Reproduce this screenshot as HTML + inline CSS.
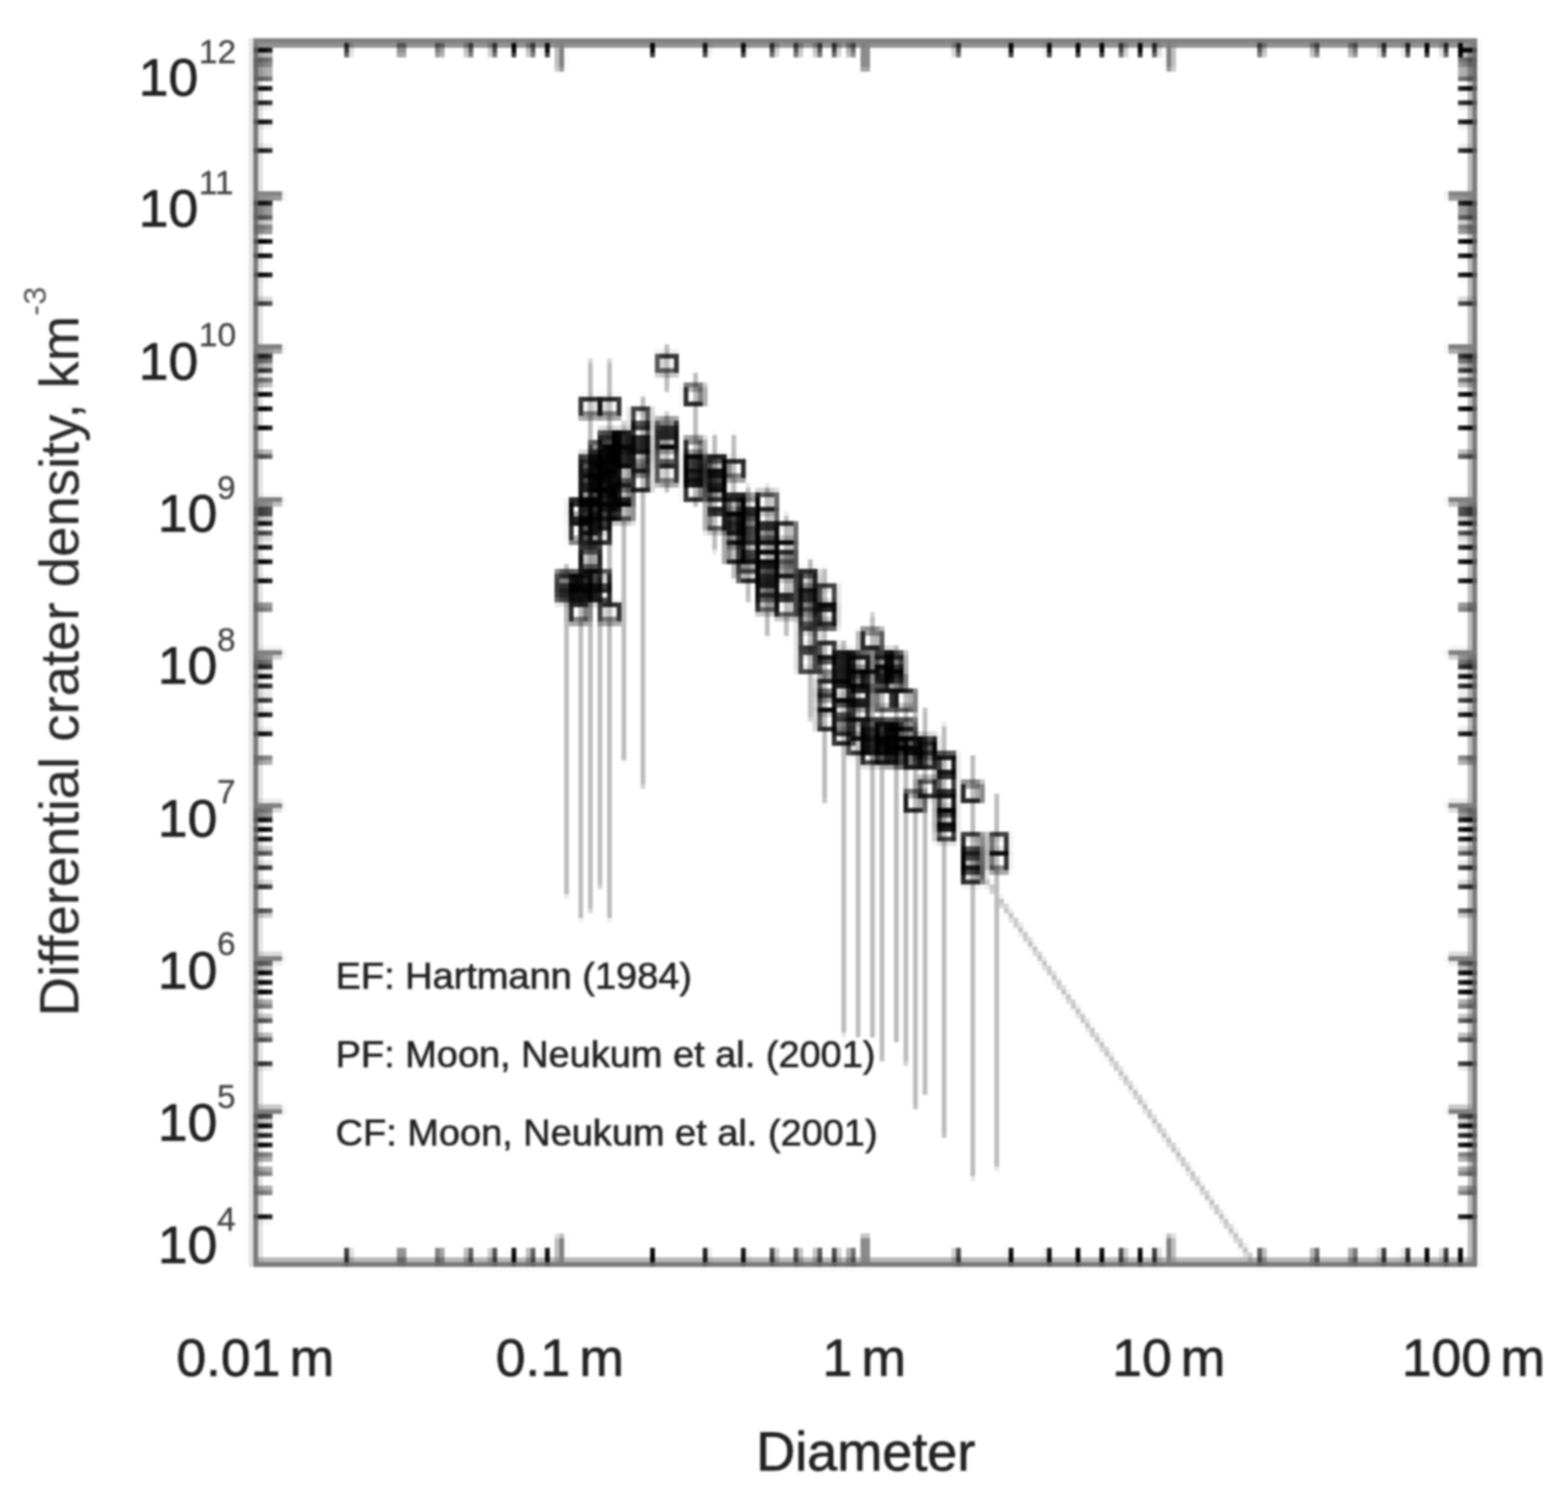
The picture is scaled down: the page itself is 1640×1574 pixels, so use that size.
<!DOCTYPE html>
<html lang="en"><head><meta charset="utf-8"><title>Differential crater density</title>
<style>html,body{margin:0;padding:0;background:#fff}svg{display:block}text{font-family:"Liberation Sans",Arial,sans-serif;fill:#222;stroke:#222;stroke-width:.7px;stroke-linejoin:round}.lg text{stroke-width:.6px}.sup{fill:#444;stroke:#444;stroke-width:.3px}</style></head><body>
<svg width="1640" height="1574" viewBox="0 0 1640 1574">
<defs><filter id="b" x="0" y="0" width="1640" height="1574" filterUnits="userSpaceOnUse" color-interpolation-filters="sRGB"><feGaussianBlur in="SourceGraphic" stdDeviation="1.1" result="pre"/><feFlood x="2" y="2" width="1" height="1" flood-color="#000" result="dot"/><feComposite in="dot" in2="dot" operator="over" x="0" y="0" width="5" height="5" result="cell"/><feTile in="cell" x="0" y="0" width="1640" height="1574" result="grid"/><feComposite in="pre" in2="grid" operator="in" result="samp"/><feMorphology in="samp" operator="dilate" radius="2" result="pix"/><feGaussianBlur in="pix" stdDeviation="1.15"/></filter><filter id="bt" x="0" y="0" width="1640" height="1574" filterUnits="userSpaceOnUse"><feGaussianBlur stdDeviation="1.2"/></filter></defs>
<g filter="url(#b)">
<rect width="1640" height="1574" fill="#fff"/>
<g stroke="#bdbdbd" stroke-width="5" fill="none">
<line x1="592.5" y1="590" x2="592.5" y2="937"/>
<line x1="607.5" y1="512" x2="607.5" y2="961.5"/>
<line x1="617.5" y1="377" x2="617.5" y2="953"/>
<line x1="627.5" y1="455" x2="627.5" y2="928"/>
<line x1="637.5" y1="377" x2="637.5" y2="961.5"/>
<line x1="652.5" y1="442" x2="652.5" y2="796"/>
<line x1="672.5" y1="414" x2="672.5" y2="823"/>
<line x1="697.5" y1="361" x2="697.5" y2="409"/>
<line x1="727.5" y1="389" x2="727.5" y2="530"/>
<line x1="747.5" y1="454" x2="747.5" y2="577"/>
<line x1="767.5" y1="454" x2="767.5" y2="606"/>
<line x1="782.5" y1="508" x2="782.5" y2="629"/>
<line x1="802.5" y1="508" x2="802.5" y2="666"/>
<line x1="822.5" y1="538" x2="822.5" y2="666"/>
<line x1="847.5" y1="585" x2="847.5" y2="753"/>
<line x1="862.5" y1="594" x2="862.5" y2="839"/>
<line x1="882.5" y1="670" x2="882.5" y2="1082"/>
<line x1="897.5" y1="659" x2="897.5" y2="1084"/>
<line x1="912.5" y1="642" x2="912.5" y2="1085"/>
<line x1="922.5" y1="659" x2="922.5" y2="1109"/>
<line x1="937.5" y1="675" x2="937.5" y2="1090"/>
<line x1="947.5" y1="705" x2="947.5" y2="1113"/>
<line x1="957.5" y1="741" x2="957.5" y2="1159"/>
<line x1="967.5" y1="741" x2="967.5" y2="1145"/>
<line x1="987.5" y1="758" x2="987.5" y2="1189"/>
<line x1="1017.5" y1="790" x2="1017.5" y2="1232"/>
<line x1="1042.5" y1="831" x2="1042.5" y2="1222"/>
<line x1="697.5" y1="432" x2="697.5" y2="514"/>
</g>
<line x1="1012" y1="893" x2="1311" y2="1320" stroke="#c0c0c0" stroke-width="5"/>
<g stroke="#000" stroke-opacity="0.85" stroke-width="4.8" fill="none">
<rect x="584.2" y="599.1" width="17.7" height="17.7"/>
<rect x="584.2" y="604.1" width="17.7" height="17.7"/>
<rect x="584.2" y="611.1" width="17.7" height="17.7"/>
<rect x="596.9" y="522.6" width="17.7" height="17.7"/>
<rect x="596.9" y="527.1" width="17.7" height="17.7"/>
<rect x="596.9" y="547.6" width="17.7" height="17.7"/>
<rect x="596.9" y="601.1" width="17.7" height="17.7"/>
<rect x="596.9" y="611.1" width="17.7" height="17.7"/>
<rect x="596.9" y="632.1" width="17.7" height="17.7"/>
<rect x="608.4" y="417.1" width="17.7" height="17.7"/>
<rect x="608.4" y="476.1" width="17.7" height="17.7"/>
<rect x="608.4" y="482.1" width="17.7" height="17.7"/>
<rect x="608.4" y="489.1" width="17.7" height="17.7"/>
<rect x="608.4" y="497.1" width="17.7" height="17.7"/>
<rect x="608.4" y="505.1" width="17.7" height="17.7"/>
<rect x="608.4" y="513.1" width="17.7" height="17.7"/>
<rect x="608.4" y="526.1" width="17.7" height="17.7"/>
<rect x="608.4" y="540.1" width="17.7" height="17.7"/>
<rect x="608.4" y="549.1" width="17.7" height="17.7"/>
<rect x="608.4" y="573.1" width="17.7" height="17.7"/>
<rect x="608.4" y="579.1" width="17.7" height="17.7"/>
<rect x="608.4" y="599.1" width="17.7" height="17.7"/>
<rect x="608.4" y="605.1" width="17.7" height="17.7"/>
<rect x="608.4" y="611.1" width="17.7" height="17.7"/>
<rect x="619.1" y="464.1" width="17.7" height="17.7"/>
<rect x="619.1" y="471.1" width="17.7" height="17.7"/>
<rect x="619.1" y="479.1" width="17.7" height="17.7"/>
<rect x="619.1" y="487.1" width="17.7" height="17.7"/>
<rect x="619.1" y="495.1" width="17.7" height="17.7"/>
<rect x="619.1" y="503.1" width="17.7" height="17.7"/>
<rect x="619.1" y="511.1" width="17.7" height="17.7"/>
<rect x="619.1" y="526.1" width="17.7" height="17.7"/>
<rect x="619.1" y="536.1" width="17.7" height="17.7"/>
<rect x="619.1" y="549.1" width="17.7" height="17.7"/>
<rect x="619.1" y="599.1" width="17.7" height="17.7"/>
<rect x="619.1" y="611.1" width="17.7" height="17.7"/>
<rect x="629.0" y="417.1" width="17.7" height="17.7"/>
<rect x="629.0" y="451.1" width="17.7" height="17.7"/>
<rect x="629.0" y="458.1" width="17.7" height="17.7"/>
<rect x="629.0" y="466.1" width="17.7" height="17.7"/>
<rect x="629.0" y="474.1" width="17.7" height="17.7"/>
<rect x="629.0" y="481.1" width="17.7" height="17.7"/>
<rect x="629.0" y="491.1" width="17.7" height="17.7"/>
<rect x="629.0" y="499.1" width="17.7" height="17.7"/>
<rect x="629.0" y="514.1" width="17.7" height="17.7"/>
<rect x="629.0" y="525.6" width="17.7" height="17.7"/>
<rect x="629.0" y="632.1" width="17.7" height="17.7"/>
<rect x="642.4" y="451.6" width="17.7" height="17.7"/>
<rect x="642.4" y="456.1" width="17.7" height="17.7"/>
<rect x="642.4" y="461.1" width="17.7" height="17.7"/>
<rect x="642.4" y="466.1" width="17.7" height="17.7"/>
<rect x="642.4" y="469.1" width="17.7" height="17.7"/>
<rect x="642.4" y="487.1" width="17.7" height="17.7"/>
<rect x="642.4" y="505.1" width="17.7" height="17.7"/>
<rect x="642.4" y="510.1" width="17.7" height="17.7"/>
<rect x="642.4" y="526.6" width="17.7" height="17.7"/>
<rect x="661.3" y="428.6" width="17.7" height="17.7"/>
<rect x="661.3" y="444.1" width="17.7" height="17.7"/>
<rect x="661.3" y="456.6" width="17.7" height="17.7"/>
<rect x="661.3" y="467.1" width="17.7" height="17.7"/>
<rect x="661.3" y="473.1" width="17.7" height="17.7"/>
<rect x="661.3" y="495.1" width="17.7" height="17.7"/>
<rect x="689.0" y="371.6" width="17.7" height="17.7"/>
<rect x="689.0" y="440.1" width="17.7" height="17.7"/>
<rect x="689.0" y="448.1" width="17.7" height="17.7"/>
<rect x="689.0" y="452.1" width="17.7" height="17.7"/>
<rect x="689.0" y="466.6" width="17.7" height="17.7"/>
<rect x="689.0" y="487.1" width="17.7" height="17.7"/>
<rect x="717.0" y="404.6" width="17.7" height="17.7"/>
<rect x="717.0" y="460.1" width="17.7" height="17.7"/>
<rect x="717.0" y="475.1" width="17.7" height="17.7"/>
<rect x="717.0" y="480.1" width="17.7" height="17.7"/>
<rect x="717.0" y="485.1" width="17.7" height="17.7"/>
<rect x="717.0" y="490.1" width="17.7" height="17.7"/>
<rect x="717.0" y="504.1" width="17.7" height="17.7"/>
<rect x="740.3" y="477.1" width="17.7" height="17.7"/>
<rect x="740.3" y="481.1" width="17.7" height="17.7"/>
<rect x="740.3" y="490.6" width="17.7" height="17.7"/>
<rect x="740.3" y="495.1" width="17.7" height="17.7"/>
<rect x="740.3" y="504.1" width="17.7" height="17.7"/>
<rect x="740.3" y="514.6" width="17.7" height="17.7"/>
<rect x="740.3" y="536.6" width="17.7" height="17.7"/>
<rect x="760.2" y="482.1" width="17.7" height="17.7"/>
<rect x="760.2" y="518.1" width="17.7" height="17.7"/>
<rect x="760.2" y="523.1" width="17.7" height="17.7"/>
<rect x="760.2" y="536.1" width="17.7" height="17.7"/>
<rect x="760.2" y="540.1" width="17.7" height="17.7"/>
<rect x="760.2" y="548.1" width="17.7" height="17.7"/>
<rect x="760.2" y="569.6" width="17.7" height="17.7"/>
<rect x="774.1" y="520.1" width="17.7" height="17.7"/>
<rect x="774.1" y="532.1" width="17.7" height="17.7"/>
<rect x="774.1" y="541.1" width="17.7" height="17.7"/>
<rect x="774.1" y="551.1" width="17.7" height="17.7"/>
<rect x="774.1" y="561.1" width="17.7" height="17.7"/>
<rect x="774.1" y="569.1" width="17.7" height="17.7"/>
<rect x="774.1" y="581.1" width="17.7" height="17.7"/>
<rect x="774.1" y="589.6" width="17.7" height="17.7"/>
<rect x="793.0" y="515.9" width="17.7" height="17.7"/>
<rect x="793.0" y="534.1" width="17.7" height="17.7"/>
<rect x="793.0" y="548.1" width="17.7" height="17.7"/>
<rect x="793.0" y="560.1" width="17.7" height="17.7"/>
<rect x="793.0" y="569.1" width="17.7" height="17.7"/>
<rect x="793.0" y="578.1" width="17.7" height="17.7"/>
<rect x="793.0" y="589.1" width="17.7" height="17.7"/>
<rect x="793.0" y="593.6" width="17.7" height="17.7"/>
<rect x="793.0" y="602.1" width="17.7" height="17.7"/>
<rect x="793.0" y="611.6" width="17.7" height="17.7"/>
<rect x="793.0" y="621.6" width="17.7" height="17.7"/>
<rect x="812.9" y="548.1" width="17.7" height="17.7"/>
<rect x="812.9" y="567.6" width="17.7" height="17.7"/>
<rect x="812.9" y="577.1" width="17.7" height="17.7"/>
<rect x="812.9" y="585.6" width="17.7" height="17.7"/>
<rect x="812.9" y="604.1" width="17.7" height="17.7"/>
<rect x="812.9" y="626.6" width="17.7" height="17.7"/>
<rect x="836.2" y="597.1" width="17.7" height="17.7"/>
<rect x="836.2" y="604.1" width="17.7" height="17.7"/>
<rect x="836.2" y="617.1" width="17.7" height="17.7"/>
<rect x="836.2" y="627.1" width="17.7" height="17.7"/>
<rect x="836.2" y="636.1" width="17.7" height="17.7"/>
<rect x="836.2" y="658.9" width="17.7" height="17.7"/>
<rect x="836.2" y="683.6" width="17.7" height="17.7"/>
<rect x="856.0" y="613.6" width="17.7" height="17.7"/>
<rect x="856.0" y="633.1" width="17.7" height="17.7"/>
<rect x="856.0" y="638.1" width="17.7" height="17.7"/>
<rect x="856.0" y="673.1" width="17.7" height="17.7"/>
<rect x="856.0" y="687.1" width="17.7" height="17.7"/>
<rect x="856.0" y="712.1" width="17.7" height="17.7"/>
<rect x="856.0" y="724.6" width="17.7" height="17.7"/>
<rect x="856.0" y="744.1" width="17.7" height="17.7"/>
<rect x="873.4" y="681.6" width="17.7" height="17.7"/>
<rect x="873.4" y="685.6" width="17.7" height="17.7"/>
<rect x="873.4" y="690.1" width="17.7" height="17.7"/>
<rect x="873.4" y="694.6" width="17.7" height="17.7"/>
<rect x="873.4" y="713.6" width="17.7" height="17.7"/>
<rect x="873.4" y="718.1" width="17.7" height="17.7"/>
<rect x="873.4" y="733.6" width="17.7" height="17.7"/>
<rect x="873.4" y="749.1" width="17.7" height="17.7"/>
<rect x="873.4" y="760.1" width="17.7" height="17.7"/>
<rect x="888.9" y="684.1" width="17.7" height="17.7"/>
<rect x="888.9" y="688.1" width="17.7" height="17.7"/>
<rect x="888.9" y="700.1" width="17.7" height="17.7"/>
<rect x="888.9" y="715.1" width="17.7" height="17.7"/>
<rect x="888.9" y="722.1" width="17.7" height="17.7"/>
<rect x="888.9" y="735.6" width="17.7" height="17.7"/>
<rect x="888.9" y="754.1" width="17.7" height="17.7"/>
<rect x="888.9" y="770.6" width="17.7" height="17.7"/>
<rect x="902.7" y="659.9" width="17.7" height="17.7"/>
<rect x="902.7" y="702.1" width="17.7" height="17.7"/>
<rect x="902.7" y="754.1" width="17.7" height="17.7"/>
<rect x="902.7" y="761.1" width="17.7" height="17.7"/>
<rect x="902.7" y="769.1" width="17.7" height="17.7"/>
<rect x="902.7" y="781.1" width="17.7" height="17.7"/>
<rect x="915.4" y="681.1" width="17.7" height="17.7"/>
<rect x="915.4" y="688.1" width="17.7" height="17.7"/>
<rect x="915.4" y="696.1" width="17.7" height="17.7"/>
<rect x="915.4" y="723.1" width="17.7" height="17.7"/>
<rect x="915.4" y="754.1" width="17.7" height="17.7"/>
<rect x="915.4" y="759.1" width="17.7" height="17.7"/>
<rect x="915.4" y="770.1" width="17.7" height="17.7"/>
<rect x="915.4" y="781.1" width="17.7" height="17.7"/>
<rect x="926.9" y="684.1" width="17.7" height="17.7"/>
<rect x="926.9" y="689.1" width="17.7" height="17.7"/>
<rect x="926.9" y="696.1" width="17.7" height="17.7"/>
<rect x="926.9" y="703.1" width="17.7" height="17.7"/>
<rect x="926.9" y="756.1" width="17.7" height="17.7"/>
<rect x="926.9" y="763.1" width="17.7" height="17.7"/>
<rect x="926.9" y="772.1" width="17.7" height="17.7"/>
<rect x="926.9" y="782.1" width="17.7" height="17.7"/>
<rect x="937.6" y="723.1" width="17.7" height="17.7"/>
<rect x="937.6" y="754.1" width="17.7" height="17.7"/>
<rect x="937.6" y="762.1" width="17.7" height="17.7"/>
<rect x="937.6" y="772.1" width="17.7" height="17.7"/>
<rect x="937.6" y="782.6" width="17.7" height="17.7"/>
<rect x="947.5" y="771.1" width="17.7" height="17.7"/>
<rect x="947.5" y="784.1" width="17.7" height="17.7"/>
<rect x="947.5" y="829.6" width="17.7" height="17.7"/>
<rect x="960.9" y="771.1" width="17.7" height="17.7"/>
<rect x="960.9" y="777.1" width="17.7" height="17.7"/>
<rect x="960.9" y="784.1" width="17.7" height="17.7"/>
<rect x="960.9" y="815.6" width="17.7" height="17.7"/>
<rect x="980.8" y="789.1" width="17.7" height="17.7"/>
<rect x="980.8" y="793.1" width="17.7" height="17.7"/>
<rect x="980.8" y="811.1" width="17.7" height="17.7"/>
<rect x="980.8" y="829.6" width="17.7" height="17.7"/>
<rect x="980.8" y="833.1" width="17.7" height="17.7"/>
<rect x="980.8" y="846.1" width="17.7" height="17.7"/>
<rect x="980.8" y="850.1" width="17.7" height="17.7"/>
<rect x="980.8" y="861.1" width="17.7" height="17.7"/>
<rect x="1007.5" y="819.9" width="17.7" height="17.7"/>
<rect x="1007.5" y="873.6" width="17.7" height="17.7"/>
<rect x="1007.5" y="889.1" width="17.7" height="17.7"/>
<rect x="1007.5" y="896.1" width="17.7" height="17.7"/>
<rect x="1007.5" y="905.6" width="17.7" height="17.7"/>
<rect x="1035.5" y="873.6" width="17.7" height="17.7"/>
<rect x="1035.5" y="892.1" width="17.7" height="17.7"/>
</g>
<rect x="267.5" y="44.6" width="1274.0" height="1276.8000000000002" fill="none" stroke="#7a7a7a" stroke-width="8"/>
<path d="M586.5 1321.4 v-29 M586.5 44.6 v29 M905.0 1321.4 v-29 M905.0 44.6 v29 M1223.5 1321.4 v-29 M1223.5 44.6 v29 M268.0 1161.8 h28 M1542.0 1161.8 h-28 M268.0 1002.2 h28 M1542.0 1002.2 h-28 M268.0 842.7 h28 M1542.0 842.7 h-28 M268.0 683.1 h28 M1542.0 683.1 h-28 M268.0 523.6 h28 M1542.0 523.6 h-28 M268.0 364.1 h28 M1542.0 364.1 h-28 M268.0 204.5 h28 M1542.0 204.5 h-28" stroke="#808080" stroke-width="8" fill="none"/>
<path d="M363.9 1321.4 v-16 M363.9 44.6 v14 M420.0 1321.4 v-16 M420.0 44.6 v14 M459.8 1321.4 v-16 M459.8 44.6 v14 M490.6 1321.4 v-16 M490.6 44.6 v14 M515.8 1321.4 v-16 M515.8 44.6 v14 M537.2 1321.4 v-16 M537.2 44.6 v14 M555.6 1321.4 v-16 M555.6 44.6 v14 M571.9 1321.4 v-16 M571.9 44.6 v14 M682.4 1321.4 v-16 M682.4 44.6 v14 M738.5 1321.4 v-16 M738.5 44.6 v14 M778.3 1321.4 v-16 M778.3 44.6 v14 M809.1 1321.4 v-16 M809.1 44.6 v14 M834.3 1321.4 v-16 M834.3 44.6 v14 M855.7 1321.4 v-16 M855.7 44.6 v14 M874.1 1321.4 v-16 M874.1 44.6 v14 M890.4 1321.4 v-16 M890.4 44.6 v14 M1000.9 1321.4 v-16 M1000.9 44.6 v14 M1057.0 1321.4 v-16 M1057.0 44.6 v14 M1096.8 1321.4 v-16 M1096.8 44.6 v14 M1127.6 1321.4 v-16 M1127.6 44.6 v14 M1152.8 1321.4 v-16 M1152.8 44.6 v14 M1174.2 1321.4 v-16 M1174.2 44.6 v14 M1192.6 1321.4 v-16 M1192.6 44.6 v14 M1208.9 1321.4 v-16 M1208.9 44.6 v14 M1319.4 1321.4 v-16 M1319.4 44.6 v14 M1375.5 1321.4 v-16 M1375.5 44.6 v14 M1415.3 1321.4 v-16 M1415.3 44.6 v14 M1446.1 1321.4 v-16 M1446.1 44.6 v14 M1471.3 1321.4 v-16 M1471.3 44.6 v14 M1492.7 1321.4 v-16 M1492.7 44.6 v14 M1511.1 1321.4 v-16 M1511.1 44.6 v14 M1527.4 1321.4 v-16 M1527.4 44.6 v14 M268.0 1273.3 h16 M1542.0 1273.3 h-16 M268.0 1245.2 h16 M1542.0 1245.2 h-16 M268.0 1225.2 h16 M1542.0 1225.2 h-16 M268.0 1209.8 h16 M1542.0 1209.8 h-16 M268.0 1197.2 h16 M1542.0 1197.2 h-16 M268.0 1186.5 h16 M1542.0 1186.5 h-16 M268.0 1177.2 h16 M1542.0 1177.2 h-16 M268.0 1169.1 h16 M1542.0 1169.1 h-16 M268.0 1113.7 h16 M1542.0 1113.7 h-16 M268.0 1085.6 h16 M1542.0 1085.6 h-16 M268.0 1065.7 h16 M1542.0 1065.7 h-16 M268.0 1050.3 h16 M1542.0 1050.3 h-16 M268.0 1037.6 h16 M1542.0 1037.6 h-16 M268.0 1026.9 h16 M1542.0 1026.9 h-16 M268.0 1017.7 h16 M1542.0 1017.7 h-16 M268.0 1009.5 h16 M1542.0 1009.5 h-16 M268.0 954.2 h16 M1542.0 954.2 h-16 M268.0 926.1 h16 M1542.0 926.1 h-16 M268.0 906.2 h16 M1542.0 906.2 h-16 M268.0 890.7 h16 M1542.0 890.7 h-16 M268.0 878.1 h16 M1542.0 878.1 h-16 M268.0 867.4 h16 M1542.0 867.4 h-16 M268.0 858.1 h16 M1542.0 858.1 h-16 M268.0 850.0 h16 M1542.0 850.0 h-16 M268.0 794.7 h16 M1542.0 794.7 h-16 M268.0 766.6 h16 M1542.0 766.6 h-16 M268.0 746.6 h16 M1542.0 746.6 h-16 M268.0 731.2 h16 M1542.0 731.2 h-16 M268.0 718.5 h16 M1542.0 718.5 h-16 M268.0 707.9 h16 M1542.0 707.9 h-16 M268.0 698.6 h16 M1542.0 698.6 h-16 M268.0 690.5 h16 M1542.0 690.5 h-16 M268.0 635.1 h16 M1542.0 635.1 h-16 M268.0 607.0 h16 M1542.0 607.0 h-16 M268.0 587.1 h16 M1542.0 587.1 h-16 M268.0 571.6 h16 M1542.0 571.6 h-16 M268.0 559.0 h16 M1542.0 559.0 h-16 M268.0 548.3 h16 M1542.0 548.3 h-16 M268.0 539.1 h16 M1542.0 539.1 h-16 M268.0 530.9 h16 M1542.0 530.9 h-16 M268.0 475.6 h16 M1542.0 475.6 h-16 M268.0 447.5 h16 M1542.0 447.5 h-16 M268.0 427.6 h16 M1542.0 427.6 h-16 M268.0 412.1 h16 M1542.0 412.1 h-16 M268.0 399.5 h16 M1542.0 399.5 h-16 M268.0 388.8 h16 M1542.0 388.8 h-16 M268.0 379.5 h16 M1542.0 379.5 h-16 M268.0 371.4 h16 M1542.0 371.4 h-16 M268.0 316.0 h16 M1542.0 316.0 h-16 M268.0 288.0 h16 M1542.0 288.0 h-16 M268.0 268.0 h16 M1542.0 268.0 h-16 M268.0 252.6 h16 M1542.0 252.6 h-16 M268.0 239.9 h16 M1542.0 239.9 h-16 M268.0 229.3 h16 M1542.0 229.3 h-16 M268.0 220.0 h16 M1542.0 220.0 h-16 M268.0 211.8 h16 M1542.0 211.8 h-16 M268.0 156.5 h16 M1542.0 156.5 h-16 M268.0 128.4 h16 M1542.0 128.4 h-16 M268.0 108.5 h16 M1542.0 108.5 h-16 M268.0 93.0 h16 M1542.0 93.0 h-16 M268.0 80.4 h16 M1542.0 80.4 h-16 M268.0 69.7 h16 M1542.0 69.7 h-16 M268.0 60.5 h16 M1542.0 60.5 h-16 M268.0 52.3 h16 M1542.0 52.3 h-16" stroke="#000" stroke-width="4.6" fill="none"/>
</g>
<g filter="url(#bt)">
<text x="165" y="1321.0" font-size="56">10</text><text x="227" y="1286.5" font-size="35" class="sup">4</text>
<text x="165" y="1193.0" font-size="56">10</text><text x="227" y="1158.5" font-size="35" class="sup">5</text>
<text x="165" y="1033.7" font-size="56">10</text><text x="227" y="999.2" font-size="35" class="sup">6</text>
<text x="165" y="874.5" font-size="56">10</text><text x="227" y="840.0" font-size="35" class="sup">7</text>
<text x="165" y="715.2" font-size="56">10</text><text x="227" y="680.7" font-size="35" class="sup">8</text>
<text x="165" y="556.0" font-size="56">10</text><text x="227" y="521.5" font-size="35" class="sup">9</text>
<text x="145" y="396.7" font-size="56">10</text><text x="208" y="362.2" font-size="35" class="sup">10</text>
<text x="145" y="237.4" font-size="56">10</text><text x="208" y="202.9" font-size="35" class="sup">11</text>
<text x="145" y="100.0" font-size="56">10</text><text x="208" y="65.5" font-size="35" class="sup">12</text>
<text x="267.0" y="1439.3" font-size="56" word-spacing="-6" text-anchor="middle">0.01 m</text>
<text x="585.5" y="1439.3" font-size="56" word-spacing="-6" text-anchor="middle">0.1 m</text>
<text x="904.0" y="1439.3" font-size="56" word-spacing="-6" text-anchor="middle">1 m</text>
<text x="1222.5" y="1439.3" font-size="56" word-spacing="-6" text-anchor="middle">10 m</text>
<text x="1541.0" y="1439.3" font-size="56" word-spacing="-6" text-anchor="middle">100 m</text>
<text x="905.5" y="1538.3" font-size="56.5" text-anchor="middle">Diameter</text>
<text transform="translate(82,1063) rotate(-90)" font-size="57" style="stroke-width:.2px;fill:#2a2a2a">Differential crater density, km<tspan dy="-34" dx="0" font-size="34" style="fill:#555;stroke:none">-3</tspan></text>
<g class="lg" font-size="39.7"><text x="351" y="1033.5">EF: Hartmann (1984)</text>
<text x="351" y="1115.5">PF: Moon, Neukum et al. (2001)</text>
<text x="351" y="1197.5">CF: Moon, Neukum et al. (2001)</text></g>
</g>
</svg></body></html>
